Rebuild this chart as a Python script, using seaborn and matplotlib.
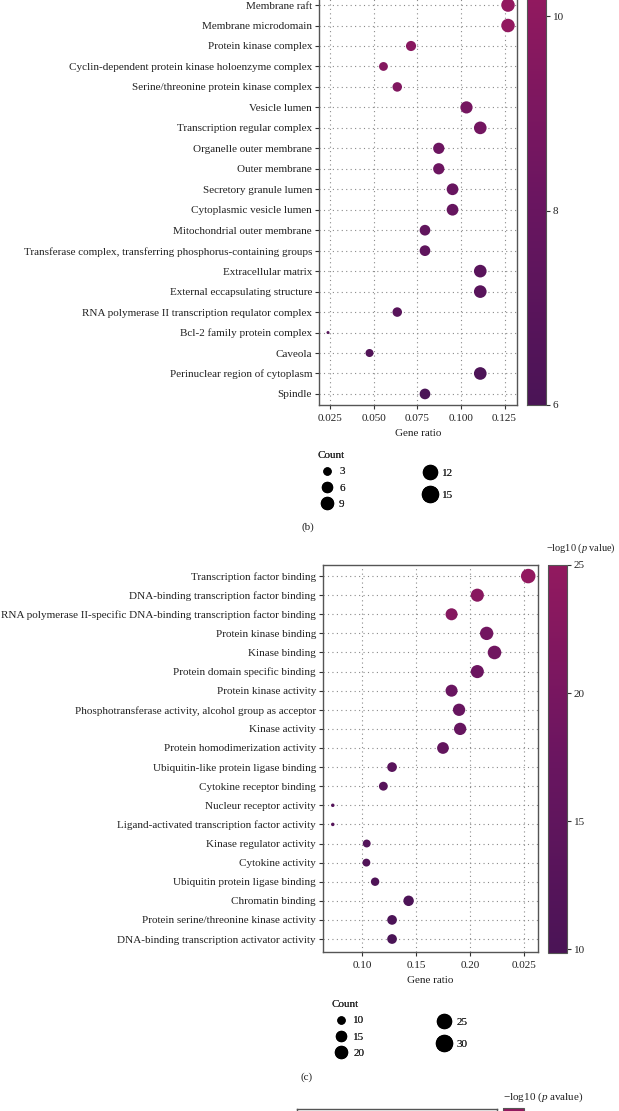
import numpy as np
import pandas as pd
import matplotlib
matplotlib.use("Agg")
import matplotlib.pyplot as plt
import seaborn as sns
from matplotlib.colors import LinearSegmentedColormap, Normalize
from matplotlib.cm import ScalarMappable
from matplotlib.lines import Line2D

# ---------------- data ----------------
b_terms = [
    "Membrane raft", "Membrane microdomain", "Protein kinase complex",
    "Cyclin-dependent protein kinase holoenzyme complex",
    "Serine/threonine protein kinase complex", "Vesicle lumen",
    "Transcription regular complex", "Organelle outer membrane",
    "Outer membrane", "Secretory granule lumen", "Cytoplasmic vesicle lumen",
    "Mitochondrial outer membrane",
    "Transferase complex, transferring phosphorus-containing groups",
    "Extracellular matrix", "External eccapsulating structure",
    "RNA polymerase II transcription requlator complex",
    "Bcl-2 family protein complex", "Caveola",
    "Perinuclear region of cytoplasm", "Spindle",
]
b_ratio = [0.1270, 0.1270, 0.0714, 0.0556, 0.0635, 0.1032, 0.1111, 0.0873,
           0.0873, 0.0952, 0.0952, 0.0794, 0.0794, 0.1111, 0.1111, 0.0635,
           0.0238, 0.0476, 0.1111, 0.0794]
b_count = [16, 16, 9, 7, 8, 13, 14, 11, 11, 12, 12, 10, 10, 14, 14, 8, 3, 6, 14, 10]
b_logp = [10.23, 10.2, 9.7, 9.5, 9.3, 8.7, 8.6, 8.2, 8.2, 7.9, 7.8, 7.5, 7.4,
          7.0, 7.0, 6.9, 6.7, 6.5, 6.2, 6.0]
b_xticks = [0.025, 0.050, 0.075, 0.100, 0.125]
b_xticklabels = ["0.025", "0.050", "0.075", "0.100", "0.125"]
b_cbar_ticks = [6, 8, 10]
b_legend_counts = [3, 6, 9, 12, 15]

c_terms = [
    "Transcription factor binding", "DNA-binding transcription factor binding",
    "RNA polymerase II-specific DNA-binding transcription factor binding",
    "Protein kinase binding", "Kinase binding", "Protein domain specific binding",
    "Protein kinase activity",
    "Phosphotransferase activity, alcohol group as acceptor",
    "Kinase activity", "Protein homodimerization activity",
    "Ubiquitin-like protein ligase binding", "Cytokine receptor binding",
    "Nucleur receptor activity",
    "Ligand-activated transcription factor activity",
    "Kinase regulator activity", "Cytokine activity",
    "Ubiquitin protein ligase binding", "Chromatin binding",
    "Protein serine/threonine kinase activity",
    "DNA-binding transcription activator activity",
]
c_ratio = [0.2544, 0.2070, 0.1830, 0.2157, 0.2230, 0.2070, 0.1830, 0.1900,
           0.1910, 0.1750, 0.1276, 0.1195, 0.0724, 0.0724, 0.1040, 0.1037,
           0.1118, 0.1430, 0.1276, 0.1276]
c_count = [35, 29, 25, 30, 31, 29, 25, 26, 26, 24, 18, 16, 10, 10, 14, 14, 15, 20, 18, 18]
c_logp = [25.0, 23.0, 22.5, 19.0, 18.6, 17.8, 17.2, 16.6, 16.4, 15.5, 13.5,
          13.0, 12.5, 12.4, 11.8, 11.5, 11.0, 10.6, 10.3, 9.85]
c_xticks = [0.10, 0.15, 0.20, 0.25]
c_xticklabels = ["0.10", "0.15", "0.20", "0.025"]
c_cbar_ticks = [10, 15, 20, 25]
c_legend_counts = [10, 15, 20, 25, 30]

d_cbar_range = [10, 25]

# ---------------- style ----------------
W, H, DPI = 619, 1111, 100
PX = 72.0 / DPI  # points per pixel

sns.set_theme(style="white")
plt.rcParams["font.family"] = ["Liberation Serif", "DejaVu Serif"]
plt.rcParams["mathtext.fontset"] = "custom"
plt.rcParams["mathtext.rm"] = "Liberation Serif"
plt.rcParams["mathtext.it"] = "Liberation Serif:italic"
FS = 8.0
TXT = "#222222"

cmap = LinearSegmentedColormap.from_list("gp", ["#4a1456", "#6a1560", "#92195f"])

fig = plt.figure(figsize=(W / DPI, H / DPI), dpi=DPI)


def fbox(l, r, t, b):
    return [l / W, 1 - b / H, (r - l) / W, (b - t) / H]


def gg_sizes(counts, dmin, dmax):
    cmin, cmax = min(counts), max(counts)
    out = {}
    for c in sorted(set(counts)):
        d = dmin + (dmax - dmin) * np.sqrt((c - cmin) / (cmax - cmin))
        out[c] = (d * PX) ** 2
    return out


def dot_panel(rect, crect, terms, ratio, count, logp, xticks, xticklabels,
              cticks, dmin, dmax, ylim):
    ax = fig.add_axes(rect)
    df = pd.DataFrame({"term": terms, "ratio": ratio, "count": count, "logp": logp})
    vmin, vmax = min(logp), max(logp)
    sns.scatterplot(data=df, x="ratio", y="term", hue="logp", size="count",
                    sizes=gg_sizes(count, dmin, dmax), palette=cmap,
                    hue_norm=(vmin, vmax), linewidth=0, legend=False, ax=ax,
                    zorder=3)
    xr = max(ratio) - min(ratio)
    ax.set_xlim(min(ratio) - 0.05 * xr, max(ratio) + 0.05 * xr)
    ax.set_ylim(*ylim)
    ax.set_xticks(xticks)
    ax.set_xticklabels(xticklabels)
    ax.set_xlabel("Gene ratio", fontsize=FS, color=TXT, labelpad=4)
    ax.set_ylabel("")
    ax.tick_params(axis="both", labelsize=FS, colors="#333333", length=3,
                   width=0.8, pad=2, labelcolor=TXT)
    ax.tick_params(axis="x", pad=3.5)
    ax.tick_params(axis="both", which="both", bottom=True, left=True)
    ax.grid(True, linestyle=(0, (1, 3)), color="#8a8a8a", linewidth=0.8)
    for s in ax.spines.values():
        s.set_color("#555555")
        s.set_linewidth(1.0)
    cax = fig.add_axes(crect)
    cb = fig.colorbar(ScalarMappable(Normalize(vmin, vmax), cmap), cax=cax,
                      ticks=cticks)
    cb.outline.set_edgecolor("#555555")
    cb.outline.set_linewidth(0.8)
    cax.tick_params(labelsize=FS, length=3, width=0.8, colors="#333333",
                    labelcolor=TXT, pad=2)
    return ax, cax


def count_legend(counts, x1, x2, ytop):
    # legend marker diameters (px) as drawn in the reference legend
    diam = [7, 10, 12, 14, 16]
    h1 = [Line2D([], [], ls="", marker="o", color="black",
                 markersize=diam[i] * PX) for i in range(3)]
    h2 = [Line2D([], [], ls="", marker="o", color="black",
                 markersize=diam[i] * PX) for i in range(3, 5)]
    l1 = fig.legend(h1, [str(c) for c in counts[:3]], title="Count",
                    loc="upper left", bbox_to_anchor=(x1 / W, 1 - ytop / H),
                    frameon=False, fontsize=FS, title_fontsize=FS,
                    labelspacing=0.6, handletextpad=0.3, handlelength=1.6,
                    borderpad=0, borderaxespad=0, alignment="left")
    fig.add_artist(l1)
    l2 = fig.legend(h2, [str(c) for c in counts[3:]],
                    loc="upper left",
                    bbox_to_anchor=(x2 / W, 1 - (ytop + 17) / H),
                    frameon=False, fontsize=FS, labelspacing=1.1,
                    handletextpad=0.3, handlelength=1.6, borderpad=0,
                    borderaxespad=0)
    fig.add_artist(l2)


# ---------------- panel (b) ----------------
axb, caxb = dot_panel(fbox(319, 517, -6, 405), fbox(527, 546, -6, 405),
                      b_terms, b_ratio, b_count, b_logp, b_xticks,
                      b_xticklabels, b_cbar_ticks, 3, 13.5, (19.54, -0.54))
count_legend(b_legend_counts, 318, 421, 451)
fig.text(308 / W, 1 - 527 / H, "(b)", fontsize=FS, color=TXT,
         ha="center", va="center")

# ---------------- panel (c) ----------------
axc, caxc = dot_panel(fbox(323, 538, 565, 952), fbox(548, 567, 565, 953),
                      c_terms, c_ratio, c_count, c_logp, c_xticks,
                      c_xticklabels, c_cbar_ticks, 3.5, 14.5, (19.68, -0.58))
fig.text(546 / W, 1 - 548 / H, "−log10 ($p$ value)", fontsize=7.4,
         color=TXT, ha="left", va="center")
count_legend(c_legend_counts, 332, 435, 1000)
fig.text(307 / W, 1 - 1077 / H, "(c)", fontsize=FS, color=TXT,
         ha="center", va="center")

# ---------------- panel (d) (top edge only) ----------------
axd = fig.add_axes(fbox(297, 497, 1109, 1500))
axd.set_xticks([])
axd.set_yticks([])
for s in axd.spines.values():
    s.set_color("#555555")
    s.set_linewidth(1.0)
caxd = fig.add_axes(fbox(503, 524, 1108, 1500))
cbd = fig.colorbar(ScalarMappable(Normalize(*d_cbar_range), cmap), cax=caxd)
cbd.outline.set_edgecolor("#555555")
cbd.outline.set_linewidth(0.8)
caxd.set_yticks([])
fig.text(503 / W, 1 - 1097 / H, "−log10 ($p$ avalue)", fontsize=FS,
         color=TXT, ha="left", va="center")

fig.savefig("out.png", dpi=DPI, facecolor="white")
